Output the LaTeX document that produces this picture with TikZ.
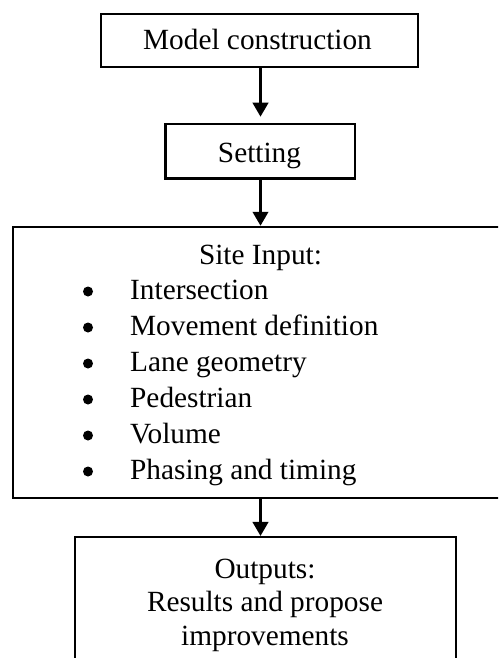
\documentclass[tikz,border=0pt]{standalone}
\usepackage{fontspec}
\setmainfont{Liberation Serif}
\usetikzlibrary{arrows.meta}
\begin{document}
\begin{tikzpicture}[x=1pt,y=1pt,
  box/.style={draw, line width=2.5pt, inner sep=0pt},
  lbl/.style={inner sep=0pt, anchor=base, font=\fontsize{29.3}{36}\selectfont},
  itm/.style={lbl, anchor=base west},
  bul/.style={circle, fill=black, inner sep=0pt, minimum size=10pt},
  arr/.style={line width=2.6pt, -{Triangle[length=14pt,width=15.5pt]}}]
\useasboundingbox (0,0) rectangle (498,-658);
\clip (0,0) rectangle (498,-658);
% boxes
\node[box, minimum width=317pt, minimum height=53pt] (mc) at (259.5,-40.5) {};
\node[box, minimum width=189.5pt, minimum height=54.7pt] (set) at (260.25,-151.3) {};
\node[box, minimum width=489pt, minimum height=271pt] (site) at (257.5,-362.5) {};
\node[box, minimum width=381pt, minimum height=183pt] (out) at (265.5,-628.7) {};
% arrow axis
\coordinate (ax) at (260.5,0);
\draw[arr, shorten >=6pt] (mc.south -| ax) -- (set.north -| ax);
\draw[arr] (set.south -| ax) -- (site.north -| ax);
\draw[arr] (site.south -| ax) -- (out.north -| ax);
% texts
\node[lbl] (t1) at (257.5,-50) {Model construction};
\node[lbl] (t2) at (259.5,-162) {Setting};
\node[lbl] (t3) at (260.5,-264) {Site Input:};
\node[bul] (b1) at (88,-291.5) {};
\node[bul] (b2) at (88,-327.5) {};
\node[bul] (b3) at (88,-363.5) {};
\node[bul] (b4) at (88,-399.5) {};
\node[bul] (b5) at (88,-435.5) {};
\node[bul] (b6) at (88,-471.5) {};
\node[itm] (i1) at (130,-299) {Intersection};
\node[itm] (i2) at (130,-335) {Movement definition};
\node[itm] (i3) at (130,-371) {Lane geometry};
\node[itm] (i4) at (130,-407) {Pedestrian};
\node[itm] (i5) at (130,-443) {Volume};
\node[itm] (i6) at (130,-479) {Phasing and timing};
\node[lbl] (o1) at (265,-578) {Outputs:};
\node[lbl] (o2) at (265,-611) {Results and propose};
\node[lbl] (o3) at (265,-645) {improvements};
\end{tikzpicture}
\end{document}
